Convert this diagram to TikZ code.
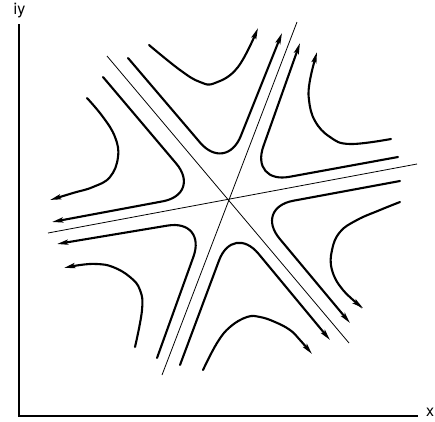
\documentclass[tikz,border=0pt]{standalone}
\usepackage{fontspec}
\setmainfont{TeX Gyre Heros}
\usetikzlibrary{arrows.meta}
\begin{document}
\begin{tikzpicture}[x=1pt,y=-1pt,
  flow/.style={line width=2.1pt, line cap=round, -{Stealth[length=11pt,width=5pt,inset=2pt]}},
  near/.style={flow, rounded corners=40pt},
  far/.style={flow},
  asym/.style={line width=0.8pt},
  axis/.style={line width=1.4pt},
  lab/.style={font=\fontsize{16}{18}\selectfont, inner sep=0pt}]
\useasboundingbox (0,0) rectangle (435,421);
% axes
\coordinate (ytop) at (19,24);
\coordinate (orig) at (19,416);
\coordinate (xend) at (418,416);
\draw[axis] (ytop) -- (orig) -- (xend);
\node[lab] (ylab) at (19.5,11) {iy};
\node[lab] (xlab) at (430,412) {x};
% asymptotes
\coordinate (l1a) at (48,233);  \coordinate (l1b) at (417,164);
\coordinate (l2a) at (297,22);  \coordinate (l2b) at (162,375);
\coordinate (l3a) at (107,56);  \coordinate (l3b) at (349,343);
\draw[asym] (l1a) -- (l1b);
\draw[asym] (l2a) -- (l2b);
\draw[asym] (l3a) -- (l3b);
% curves close to the asymptotes
\draw[near] (128,58) -- (226,173) -- (282,33);
\draw[near] (398,157) -- (250,184) -- (300,43);
\draw[near] (400,181) -- (254,208) -- (350,323);
\draw[near] (180,365) -- (233,223) -- (330,340);
\draw[near] (157,358) -- (207,219) -- (57,244);
\draw[near] (103,77) -- (202,194) -- (52,222);
% far curves
\draw[far] plot[smooth, tension=0.7] coordinates {(149,45) (180,70) (200,82) (215,83) (238,67) (258,28)};
\draw[far] plot[smooth, tension=0.7] coordinates {(391,139) (350,144) (330,137) (315,121) (309,100) (310,80) (317,52)};
\draw[far] plot[smooth, tension=0.7] coordinates {(400,202) (380,210) (357,220) (340,232) (332,250) (332,270) (343,290) (363,308)};
\draw[far] plot[smooth, tension=0.7] coordinates {(203,370) (217,343) (230,327) (247,317) (260,317) (275,322) (290,330) (300,340) (312,354)};
\draw[far] plot[smooth, tension=0.7] coordinates {(135,347) (142,310) (140,290) (130,277) (113,267) (97,264) (80,265) (64,268)};
\draw[far] plot[smooth, tension=0.7] coordinates {(87,98) (103,117) (115,137) (118,157) (110,177) (93,187) (73,193) (50,200)};
\end{tikzpicture}
\end{document}
